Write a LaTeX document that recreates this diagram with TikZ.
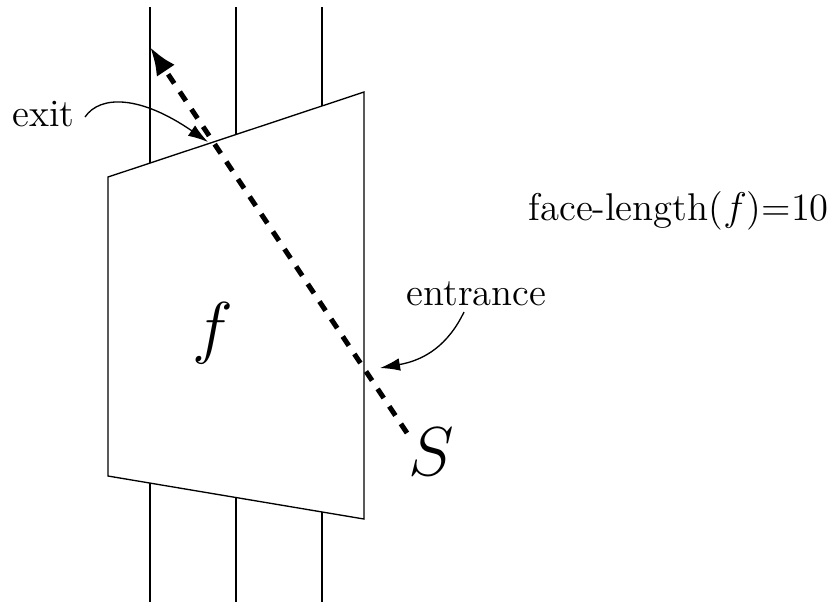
\documentclass[tikz,border=0pt]{standalone}
\usetikzlibrary{arrows.meta}
\begin{document}
\begin{tikzpicture}[x=0.3pt,y=-0.3pt,
  thin line/.style={line width=0.4pt},
  label text/.style={inner sep=0pt,font=\fontsize{11.6}{14}\selectfont},
  big math/.style={inner sep=0pt,font=\fontsize{20}{24}\selectfont},
  pointer/.style={line width=0.4pt,-{Latex[length=6pt,width=3.8pt]}},
  ray/.style={line width=1.5pt,dash pattern=on 3.3pt off 3pt,-{Latex[length=8.5pt,width=6.5pt]}}]
\useasboundingbox (0,0) rectangle (828,602);
% vertical lines
\foreach \x/\n in {150/a,236/b,322/c}{
  \coordinate (\n top) at (\x,7);
  \coordinate (\n bot) at (\x,602);
  \draw[thin line] (\n top) -- (\n bot);
}
% face
\coordinate (q1) at (108,177);
\coordinate (q2) at (364,92);
\coordinate (q3) at (364,519);
\coordinate (q4) at (108,476);
\filldraw[thin line,fill=white] (q1) -- (q2) -- (q3) -- (q4) -- cycle;
% labels
\node[big math] (f) at (213,333) {$f$};
\node[big math] (S) at (431,452) {$S$};
\node[label text,anchor=base west] (exit) at (12,126) {exit};
\node[label text,anchor=base west] (entrance) at (406,305) {entrance};
\node[label text,anchor=base west] (fl) at (528,220) {face-length($f$)=10};
% ray
\coordinate (rs) at (407,433);
\coordinate (rt) at (150,47);
\draw[ray] (rs) -- (rt);
% pointers
\coordinate (exitpt) at (208,142);
\coordinate (entpt) at (380,368);
\coordinate (exitst) at (85,117);
\coordinate (entst) at (464,312);
\draw[pointer] (exitst) .. controls (100,95) and (140,95) .. (exitpt);
\draw[pointer] (entst) .. controls (448,345) and (425,360) .. (entpt);
\end{tikzpicture}
\end{document}
